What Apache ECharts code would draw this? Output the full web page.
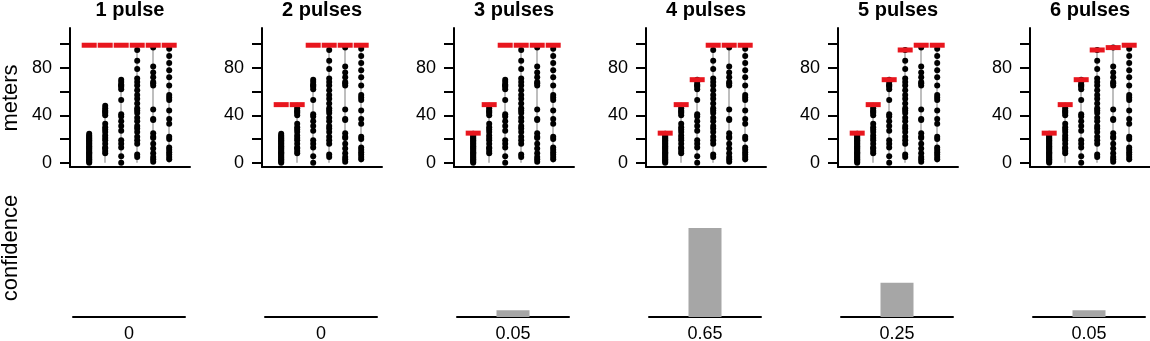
<!DOCTYPE html>
<html>
<head>
<meta charset="utf-8">
<script src="https://cdn.jsdelivr.net/npm/echarts@6/dist/echarts.min.js"></script>
<style>
  html, body { margin: 0; padding: 0; background: #fff; }
  #chart { width: 1150px; height: 341px; }
</style>
</head>
<body>
<div id="chart"></div>
<script>
// panel titles and the confidence of each model
var panelTitles = ['1 pulse', '2 pulses', '3 pulses', '4 pulses', '5 pulses', '6 pulses'];
var confidence = [0, 0, 0.05, 0.65, 0.25, 0.05];

// observed distances (meters), one array per column
var col1 = [0, 1, 2, 3, 4, 5, 6, 7, 8, 9, 10, 11, 12, 13, 14, 15, 16, 17, 18, 19, 20, 21, 22, 23, 24.5];
var col2 = [8, 10, 12, 13, 16, 19, 21, 23, 26, 28, 30, 33, 40, 42, 43, 44, 46, 48];
var col3 = [0, 5.5, 13, 16, 19, 27, 31, 35, 39, 41, 53, 62, 64, 65, 66, 68, 70];
var col4 = [5, 7, 16, 19, 22, 26, 29, 31, 35, 38, 42, 44, 46, 50, 54, 57, 61, 65, 68, 71, 79, 86, 95];
var col5 = [1, 3, 5, 8, 12, 16, 21, 22, 25, 36, 37, 45, 65, 67, 68, 72, 76, 81, 97];
var col6 = [3, 5, 7, 9, 11, 13, 20, 22, 33, 37, 44, 53, 55, 57, 65, 72, 78, 84, 90, 96];
var columns = [col1, col2, col3, col4, col5, col6];

// fitted pulse levels (red bars) per model
var levels1 = [99, 99, 99, 99, 99, 99];
var levels2 = [49, 49, 99, 99, 99, 99];
var levels3 = [25, 49, 99, 99, 99, 99];
var levels4 = [25, 49, 70, 99, 99, 99];
var levels5 = [25, 49, 70, 95, 99, 99];
var levels6 = [25, 49, 70, 95, 97, 99];
var levels = [levels1, levels2, levels3, levels4, levels5, levels6];

var tickValues = [0, 20, 40, 60, 80, 100];
var labelValues = [0, 40, 80];

var FONT = '"Liberation Sans", Arial, Helvetica, sans-serif';
var panelLeft = [70, 262, 454, 646, 838, 1030];

var grid = [], xAxis = [], yAxis = [], series = [], graphic = [];

panelLeft.forEach(function (left, p) {
  var ti = p * 2, bi = p * 2 + 1;

  // fixed boxes: don't let v6 shrink grids to fit labels
  grid.push({ left: left, top: 28, width: 120, height: 139, outerBoundsMode: 'none', containLabel: false });
  grid.push({ left: left + 3, top: 180, width: 112, height: 137, outerBoundsMode: 'none', containLabel: false });

  xAxis.push({
    type: 'value', gridIndex: ti, min: -0.2, max: 7.3,
    axisLine: { show: true, onZero: false, lineStyle: { color: '#000', width: 2 } },
    axisTick: { show: false }, axisLabel: { show: false }, splitLine: { show: false }
  });
  yAxis.push({
    type: 'value', gridIndex: ti, min: -3.5, max: 113.5,
    axisLine: { show: true, onZero: false, lineStyle: { color: '#000', width: 2 } },
    axisTick: { show: true, length: 10, customValues: tickValues, lineStyle: { color: '#000', width: 2 } },
    axisLabel: { customValues: labelValues, fontSize: 18, color: '#000', fontFamily: FONT, margin: 18 },
    splitLine: { show: false }
  });
  xAxis.push({
    type: 'category', gridIndex: bi, data: [String(confidence[p])],
    axisLine: { show: true, lineStyle: { color: '#000', width: 2 } },
    axisTick: { show: false },
    axisLabel: { fontSize: 18, color: '#000', fontFamily: FONT, margin: 8 }
  });
  yAxis.push({ type: 'value', gridIndex: bi, min: 0, max: 1, show: false, splitLine: { show: false } });

  // grey range lines
  series.push({
    type: 'lines', coordinateSystem: 'cartesian2d', xAxisIndex: ti, yAxisIndex: ti,
    data: columns.map(function (c, i) {
      return { coords: [[i + 1, 0], [i + 1, Math.max.apply(null, c)]] };
    }),
    lineStyle: { color: '#a8a8a8', width: 1.5, opacity: 1 }, z: 1, silent: true
  });
  // observations
  var pts = [];
  columns.forEach(function (c, i) { c.forEach(function (v) { pts.push([i + 1, v]); }); });
  series.push({
    type: 'scatter', xAxisIndex: ti, yAxisIndex: ti, data: pts,
    symbolSize: 6, itemStyle: { color: '#000', opacity: 1 }, z: 2
  });
  // pulse levels
  series.push({
    type: 'scatter', xAxisIndex: ti, yAxisIndex: ti,
    data: levels[p].map(function (v, i) { return [i + 1, v]; }),
    symbol: 'rect', symbolSize: [15, 5], itemStyle: { color: '#e8161e', opacity: 1 }, z: 3
  });
  // confidence bar
  series.push({
    type: 'bar', xAxisIndex: bi, yAxisIndex: bi, data: [confidence[p]],
    barWidth: 33, itemStyle: { color: '#a6a6a6' }
  });

  graphic.push({
    type: 'text', x: left + 60, y: 10,
    style: { text: panelTitles[p], font: 'bold 20px ' + FONT, fill: '#000', textAlign: 'center', textVerticalAlign: 'middle' }
  });
});

graphic.push({
  type: 'text', x: 11, y: 98, rotation: Math.PI / 2,
  style: { text: 'meters', font: '22px ' + FONT, fill: '#000', textAlign: 'center', textVerticalAlign: 'middle' }
});
graphic.push({
  type: 'text', x: 11, y: 248, rotation: Math.PI / 2,
  style: { text: 'confidence', font: '22px ' + FONT, fill: '#000', textAlign: 'center', textVerticalAlign: 'middle' }
});

var chart = echarts.init(document.getElementById('chart'));
chart.setOption({
  animation: false,
  backgroundColor: '#fff',
  grid: grid, xAxis: xAxis, yAxis: yAxis, series: series, graphic: graphic
});
</script>
</body>
</html>
